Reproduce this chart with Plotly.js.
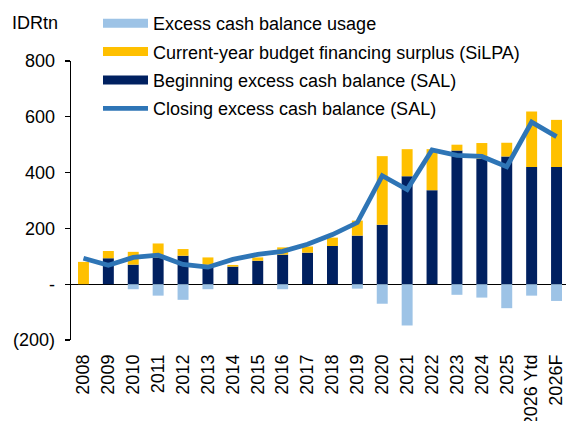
<!DOCTYPE html>
<html>
<head>
<meta charset="utf-8">
<script src="https://cdn.plot.ly/plotly-3.0.1.min.js"></script>
<style>html,body{margin:0;padding:0;background:#fff;}#chart{width:566px;height:421px;}</style>
</head>
<body>
<div id="chart"></div>
<script>
var categories = ["2008","2009","2010","2011","2012","2013","2014","2015","2016","2017","2018","2019","2020","2021","2022","2023","2024","2025","2026 Ytd","2026F"];
var beginningSAL = [0, 93, 70, 96, 102, 70, 63, 84, 106, 113, 137, 174, 213, 387, 337, 479, 450, 458, 420, 420];
var silpa = [80, 26, 46, 50, 24, 26, 6, 12, 26, 22, 30, 54, 246, 97, 147, 21, 56, 49, 199, 169];
var usage = [0, 0, -18, -41, -56, -18, 0, 0, -18, 0, 0, -16, -70, -148, 0, -38, -48, -86, -41, -60];
var closingSAL = [93, 68, 96, 104, 71, 61, 89, 107, 118, 143, 178, 221, 389, 339, 481, 462, 458, 421, 581, 529];
var yTickVals = [-200, 0, 200, 400, 600, 800];
var yTickText = ["(200)", "-", "200", "400", "600", "800"];
var seriesNames = ["Excess cash balance usage", "Current-year budget financing surplus (SiLPA)", "Beginning excess cash balance (SAL)", "Closing excess cash balance (SAL)"];

var cUsage = "#9DC3E6", cSilpa = "#FFC000", cBegin = "#002060", cClose = "#2E75B6";
var nulls = categories.map(function(){ return null; });

var traces = [
  {type:"bar", x:categories, y:beginningSAL, marker:{color:cBegin}, width:0.44, showlegend:false, name:seriesNames[2]},
  {type:"bar", x:categories, y:silpa, marker:{color:cSilpa}, width:0.44, showlegend:false, name:seriesNames[1]},
  {type:"bar", x:categories, y:usage, marker:{color:cUsage}, width:0.44, showlegend:false, name:seriesNames[0]},
  {type:"scatter", mode:"lines", x:categories, y:closingSAL, line:{color:cClose, width:4.8}, showlegend:false, name:seriesNames[3]},
  // legend entries
  {type:"scatter", mode:"lines", x:categories, y:nulls, line:{color:cUsage, width:9}, name:seriesNames[0], legendgroup:"a", hoverinfo:"skip"},
  {type:"scatter", mode:"lines", x:categories, y:nulls, line:{color:cSilpa, width:9}, name:seriesNames[1], legendgroup:"b", hoverinfo:"skip"},
  {type:"scatter", mode:"lines", x:categories, y:nulls, line:{color:cBegin, width:9}, name:seriesNames[2], legendgroup:"c", hoverinfo:"skip"},
  {type:"scatter", mode:"lines", x:categories, y:nulls, line:{color:cClose, width:4.8}, name:seriesNames[3], legendgroup:"d", hoverinfo:"skip"}
];

var layout = {
  width:566, height:421,
  margin:{l:71, r:0, t:61, b:81, autoexpand:false},
  paper_bgcolor:"#fff", plot_bgcolor:"#fff",
  font:{family:"Liberation Sans, Arial, sans-serif", size:18, color:"#000"},
  barmode:"relative",
  showlegend:true,
  legend:{xref:"container", yref:"container", x:98/566, y:1-5/421, xanchor:"left", yanchor:"top",
          font:{size:18}, itemwidth:45, traceorder:"grouped", tracegroupgap:2, bgcolor:"rgba(0,0,0,0)"},
  xaxis:{type:"category", range:[-0.5, 19.38], showline:false, showgrid:false, zeroline:false,
         ticks:"", tickangle:-90, tickfont:{size:18}, ticklabelstandoff:10, fixedrange:true, automargin:false},
  yaxis:{range:[-200, 800], tickvals:yTickVals, ticktext:yTickText, showgrid:false, automargin:false,
         showline:true, linecolor:"#000", linewidth:1.3, ticks:"outside", ticklen:5, tickwidth:1.3, tickcolor:"#000",
         zeroline:true, zerolinecolor:"#000", zerolinewidth:1.3, tickfont:{size:18}, ticklabelstandoff:6, fixedrange:true},
  annotations:[{text:"IDRtn", xref:"paper", yref:"paper", x:(10-71)/495, y:1+(61-23)/279, xanchor:"left", yanchor:"middle",
                showarrow:false, font:{size:18, color:"#000"}}]
};

Plotly.newPlot("chart", traces, layout, {displayModeBar:false, staticPlot:true});
</script>
</body>
</html>
